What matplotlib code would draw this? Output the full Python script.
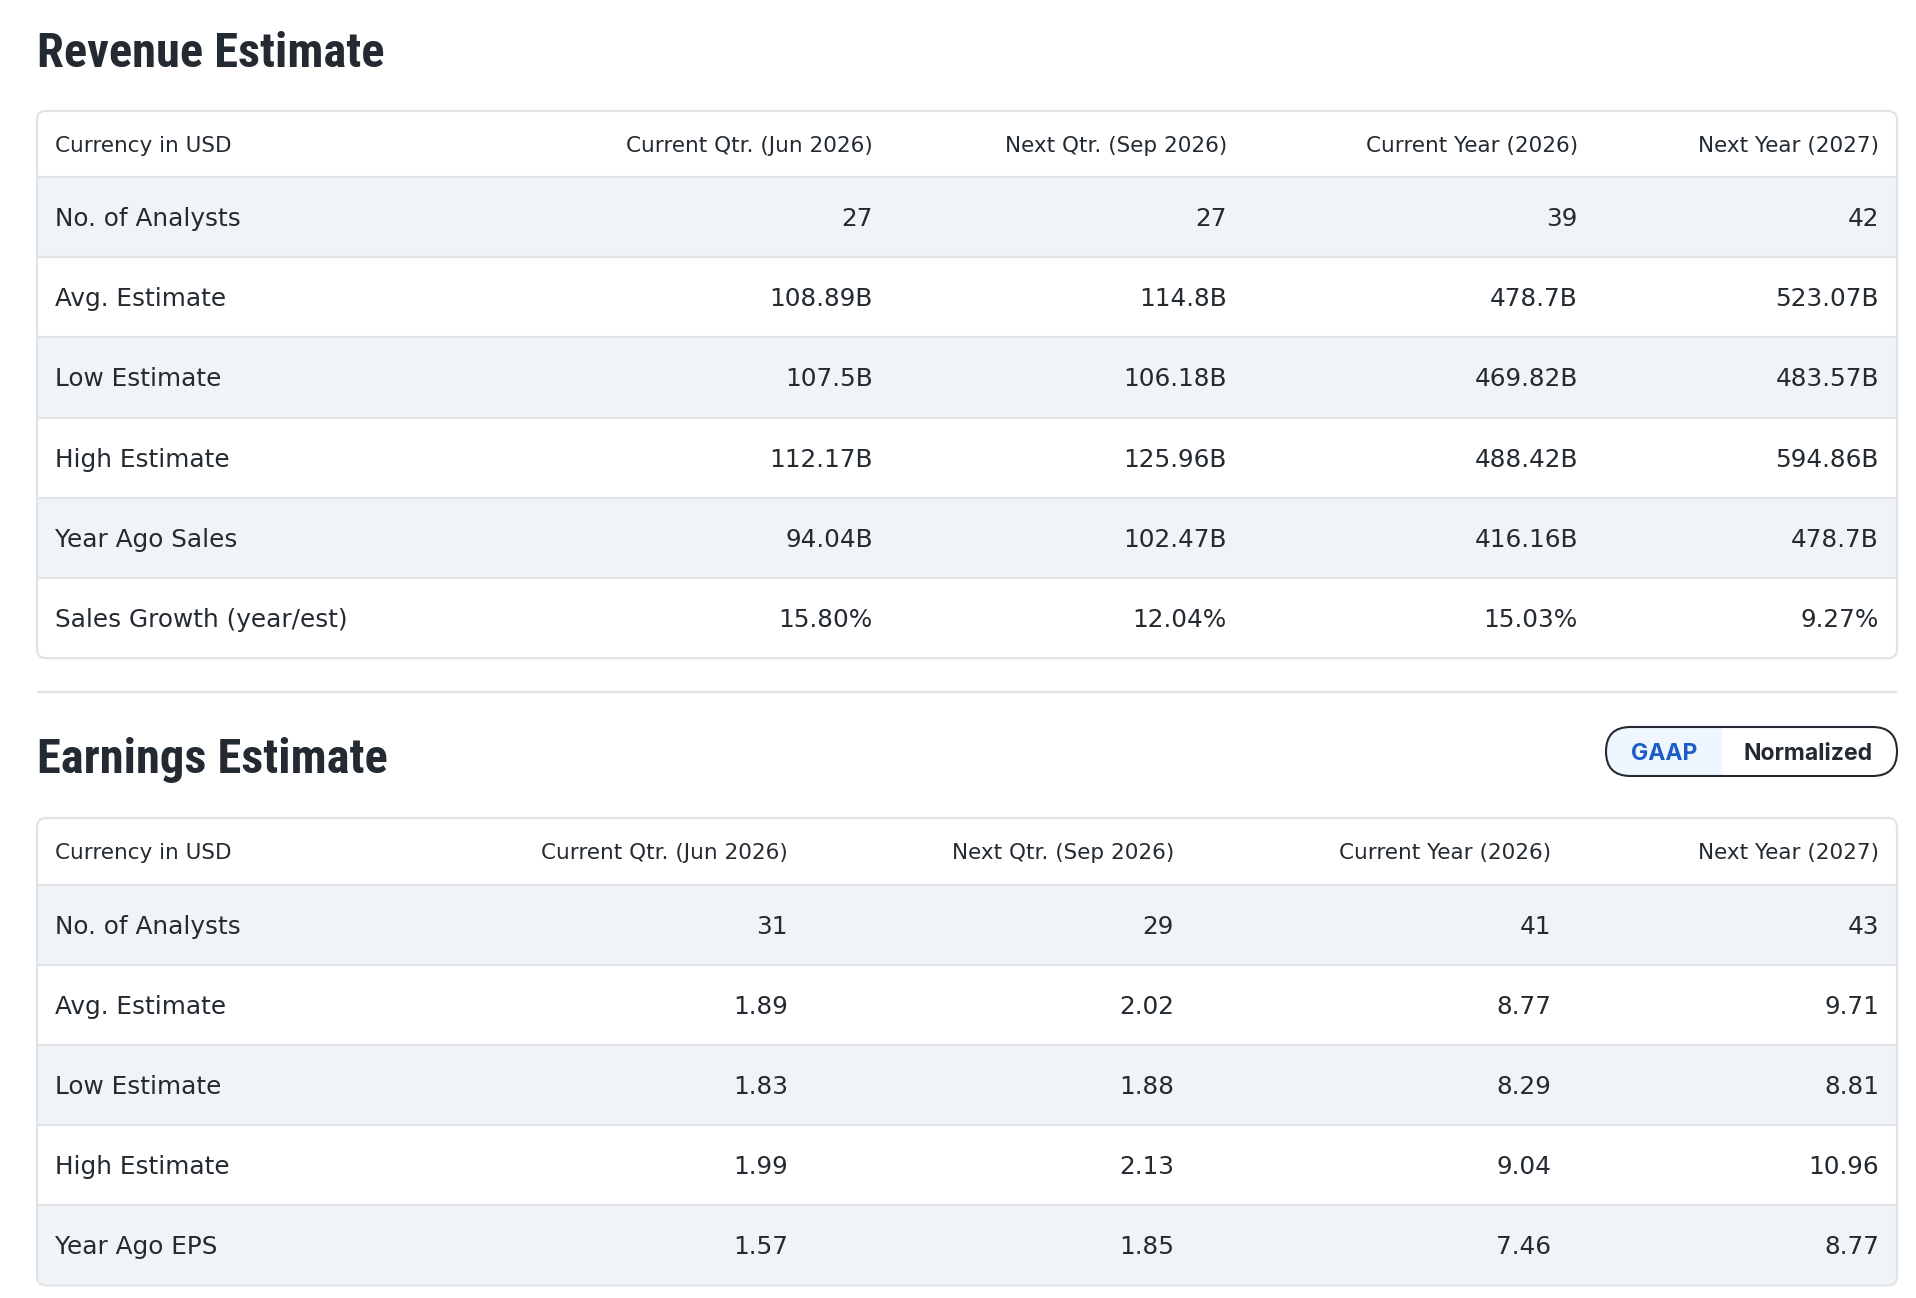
import matplotlib
matplotlib.use('Agg')
import matplotlib.pyplot as plt
from matplotlib.patches import FancyBboxPatch, Rectangle
from matplotlib import font_manager as fm

# ---------------- data ----------------
columns = ["Current Qtr. (Jun 2026)", "Next Qtr. (Sep 2026)",
           "Current Year (2026)", "Next Year (2027)"]
currency_label = "Currency in USD"

rev_rows = ["No. of Analysts", "Avg. Estimate", "Low Estimate",
            "High Estimate", "Year Ago Sales", "Sales Growth (year/est)"]
rev_analysts = [27, 27, 39, 42]
rev_avg = [108.89, 114.8, 478.7, 523.07]          # billions
rev_low = [107.5, 106.18, 469.82, 483.57]
rev_high = [112.17, 125.96, 488.42, 594.86]
rev_year_ago = [94.04, 102.47, 416.16, 478.7]
rev_growth = [15.80, 12.04, 15.03, 9.27]          # percent

eps_rows = ["No. of Analysts", "Avg. Estimate", "Low Estimate",
            "High Estimate", "Year Ago EPS"]
eps_analysts = [31, 29, 41, 43]
eps_avg = [1.89, 2.02, 8.77, 9.71]
eps_low = [1.83, 1.88, 8.29, 8.81]
eps_high = [1.99, 2.13, 9.04, 10.96]
eps_year_ago = [1.57, 1.85, 7.46, 8.77]

toggle_labels = ["GAAP", "Normalized"]

# ---------------- formatting ----------------
def fmt_b(v):
    return f"{v:g}B"

rev_cells = [[str(v) for v in rev_analysts],
             [fmt_b(v) for v in rev_avg],
             [fmt_b(v) for v in rev_low],
             [fmt_b(v) for v in rev_high],
             [fmt_b(v) for v in rev_year_ago],
             [f"{v:.2f}%" for v in rev_growth]]
eps_cells = [[str(v) for v in eps_analysts],
             [f"{v:.2f}" for v in eps_avg],
             [f"{v:.2f}" for v in eps_low],
             [f"{v:.2f}" for v in eps_high],
             [f"{v:.2f}" for v in eps_year_ago]]

# ---------------- fonts ----------------
names = {f.name for f in fm.fontManager.ttflist}
body_font = 'DejaVu Sans'
pill_font = 'Inter' if 'Inter' in names else 'DejaVu Sans'
title_font = 'Roboto Condensed' if 'Roboto Condensed' in names else 'DejaVu Sans'

# ---------------- figure ----------------
W, H = 1916, 1298
fig = plt.figure(figsize=(W / 100, H / 100), dpi=100)
ax = fig.add_axes([0, 0, 1, 1])
ax.set_xlim(0, W)
ax.set_ylim(H, 0)
ax.axis('off')

TXT = '#232a31'
ALT = '#f1f4f7'
LINE = '#e0e4e9'
PX = 0.72  # px -> pt


def draw_table(top, header_h, row_h, rows, cells, col_right):
    left, right = 37, 1897
    n = len(rows)
    bottom = top + header_h + n * row_h
    box = FancyBboxPatch((left, top), right - left, bottom - top,
                         boxstyle="round,pad=0,rounding_size=9",
                         fc='white', ec='none', zorder=1)
    ax.add_patch(box)
    for i in range(n):
        y0 = top + header_h + i * row_h
        if i % 2 == 0:
            r = Rectangle((left, y0), right - left, row_h, fc=ALT, ec='none', zorder=2)
            ax.add_patch(r)
            r.set_clip_path(box)
        ax.plot([left, right], [y0, y0], color=LINE, lw=1.6, zorder=3,
                solid_capstyle='butt')
    border = FancyBboxPatch((left, top), right - left, bottom - top,
                            boxstyle="round,pad=0,rounding_size=9",
                            fc='none', ec=LINE, lw=1.6, zorder=4)
    ax.add_patch(border)
    # header
    hb = top + header_h / 2 + 8
    ax.text(55, hb, currency_label, ha='left', va='baseline', fontsize=21.5 * PX,
            family=body_font, color=TXT, zorder=5)
    for j, c in enumerate(columns):
        ax.text(col_right[j], hb, c, ha='right', va='baseline', fontsize=21.5 * PX,
                family=body_font, color=TXT, zorder=5)
    for i, rname in enumerate(rows):
        yb = top + header_h + i * row_h + row_h / 2 + 9
        ax.text(55, yb, rname, ha='left', va='baseline', fontsize=24.8 * PX,
                family=body_font, color=TXT, zorder=5)
        for j, v in enumerate(cells[i]):
            ax.text(col_right[j], yb, v, ha='right', va='baseline', fontsize=24.8 * PX,
                    family=body_font, color=TXT, zorder=5)


# titles
ax.text(37, 67, "Revenue Estimate", ha='left', va='baseline', fontsize=48.5 * PX,
        family=title_font, fontweight=800, color=TXT)
ax.text(37, 773, "Earnings Estimate", ha='left', va='baseline', fontsize=48.5 * PX,
        family=title_font, fontweight=800, color=TXT)

draw_table(111, 66, 80.2, rev_rows, rev_cells, [873, 1227, 1578, 1879])
draw_table(818, 66.5, 80.2, eps_rows, eps_cells, [788, 1174, 1551, 1879])

# separator
ax.plot([37, 1897], [692, 692], color=LINE, lw=1.6, solid_capstyle='butt')

# toggle pill
px0, py0, pw, ph = 1606, 727, 291, 49
pill_bg = FancyBboxPatch((px0, py0), pw, ph, boxstyle="round,pad=0,rounding_size=24.5",
                         fc='white', ec='none', zorder=1)
ax.add_patch(pill_bg)
gaap_bg = Rectangle((px0, py0), 1722 - px0, ph, fc='#eff6ff', ec='none', zorder=2)
ax.add_patch(gaap_bg)
gaap_bg.set_clip_path(pill_bg)
ax.add_patch(FancyBboxPatch((px0, py0), pw, ph, boxstyle="round,pad=0,rounding_size=24.5",
                            fc='none', ec=TXT, lw=1.5, zorder=3))
ax.text(1664, py0 + ph / 2 + 8, toggle_labels[0], ha='center', va='baseline',
        fontsize=23 * PX, family=pill_font, fontweight='bold', color='#1d5ec4', zorder=4)
ax.text(1808, py0 + ph / 2 + 8, toggle_labels[1], ha='center', va='baseline',
        fontsize=23 * PX, family=pill_font, fontweight='bold', color=TXT, zorder=4)

fig.savefig('out.png', dpi=100, facecolor='white')
